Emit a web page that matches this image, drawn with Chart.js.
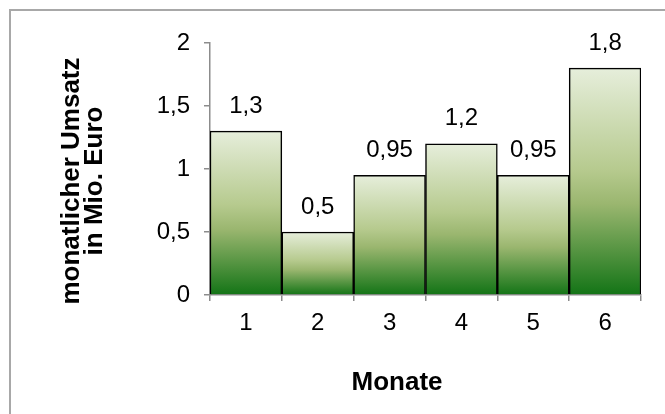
<!DOCTYPE html>
<html>
<head>
<meta charset="utf-8">
<script src="https://cdn.jsdelivr.net/npm/chart.js@4/dist/chart.umd.min.js"></script>
<style>
  html, body { margin: 0; padding: 0; background: #fff; overflow: hidden; }
  #wrap { position: relative; width: 665px; height: 414px; }
  #frame { position: absolute; left: 9px; top: 9px; width: 720px; height: 500px; border: 2px solid #a8a8a8; box-sizing: border-box; }
  canvas { position: absolute; left: 0; top: 0; }
</style>
</head>
<body>
<div id="wrap">
  <div id="frame"></div>
  <canvas id="c" width="665" height="414"></canvas>
</div>
<script>
const categories = ["1", "2", "3", "4", "5", "6"];
const umsatz = [1.3, 0.5, 0.95, 1.2, 0.95, 1.8];
const yTicks = [0, 0.5, 1, 1.5, 2];
const xTitle = "Monate";
const yTitle = ["monatlicher Umsatz", "in Mio. Euro"];

const fmt = v => String(v).replace('.', ',');
const FONT = "'Liberation Sans', Arial, Helvetica, sans-serif";

function barGradient(ctx) {
  const chart = ctx.chart;
  if (!chart.chartArea) return '#9fba74';
  const y = chart.scales.y;
  const top = y.getPixelForValue(ctx.raw);
  const bot = y.getPixelForValue(0);
  const g = chart.ctx.createLinearGradient(0, top, 0, bot);
  g.addColorStop(0, '#e6eedb');
  g.addColorStop(0.45, '#b6ca8e');
  g.addColorStop(0.6, '#9ab66f');
  g.addColorStop(1, '#137416');
  return g;
}

const labelPlugin = {
  id: 'valueLabels',
  afterDatasetsDraw(chart) {
    const ctx = chart.ctx;
    const meta = chart.getDatasetMeta(0);
    ctx.save();
    ctx.font = "24px " + FONT;
    ctx.fillStyle = '#000';
    ctx.textAlign = 'center';
    ctx.textBaseline = 'middle';
    meta.data.forEach((bar, i) => {
      ctx.fillText(fmt(umsatz[i]), bar.x, bar.y - 25);
    });
    ctx.restore();
  }
};

const titlePlugin = {
  id: 'axisTitles',
  afterDraw(chart) {
    const ctx = chart.ctx;
    ctx.save();
    ctx.fillStyle = '#000';
    ctx.font = "bold 26px " + FONT;
    ctx.textAlign = 'center';
    ctx.textBaseline = 'middle';
    ctx.fillText(xTitle, 397, 383);
    ctx.translate(0, 0);
    const cx = [72, 95];
    yTitle.forEach((t, i) => {
      ctx.save();
      ctx.translate(cx[i], 181);
      ctx.rotate(-Math.PI / 2);
      ctx.fillText(t, 0, 0);
      ctx.restore();
    });
    ctx.restore();
  }
};

new Chart(document.getElementById('c'), {
  type: 'bar',
  data: {
    labels: categories,
    datasets: [{
      data: umsatz,
      backgroundColor: barGradient,
      hoverBackgroundColor: barGradient,
      borderColor: '#000',
      borderWidth: 1.5,
      borderSkipped: 'bottom',
      barPercentage: 1.0,
      categoryPercentage: 1.0
    }]
  },
  options: {
    responsive: false,
    animation: false,
    devicePixelRatio: 1,
    layout: { padding: { left: 0, top: 43, right: 24, bottom: 0 } },
    plugins: { legend: { display: false }, tooltip: { enabled: false } },
    scales: {
      x: {
        afterFit(s) { s.height = 119; },
        grid: { drawOnChartArea: false, drawTicks: true, tickLength: 6, color: '#8c8c8c', lineWidth: 1.5, offset: true },
        border: { color: '#8c8c8c', width: 1.5 },
        ticks: { color: '#000', font: { size: 24, family: FONT }, padding: 8 },
        title: { display: false }
      },
      y: {
        min: 0, max: 2,
        afterFit(s) { s.width = 210; },
        afterBuildTicks(s) { s.ticks = yTicks.map(v => ({ value: v })); },
        grid: { drawOnChartArea: false, drawTicks: true, tickLength: 6, color: '#8c8c8c', lineWidth: 1.5 },
        border: { color: '#8c8c8c', width: 1.5 },
        ticks: { color: '#000', font: { size: 24, family: FONT }, padding: 14, callback: v => fmt(v) },
        title: { display: false }
      }
    }
  },
  plugins: [labelPlugin, titlePlugin]
});
</script>
</body>
</html>
